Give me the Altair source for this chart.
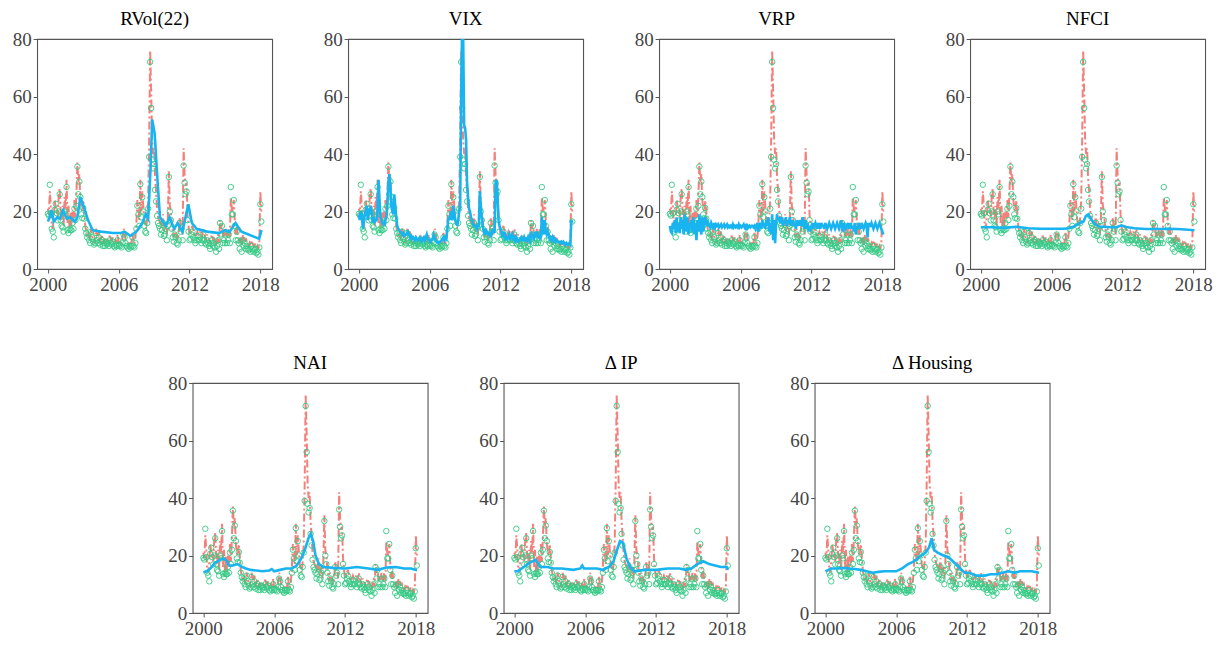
import altair as alt
import pandas as pd

# ---------------- data ----------------
# monthly observations, Jan 2000 .. Feb 2018 (green circles, same in every panel)
green_vals = [
    19.2, 18.6, 29.3, 19.4, 14.0, 13.0, 11.0, 20.6, 22.7, 19.4, 16.9, 20.0,
    26.0, 17.0, 15.0, 14.5, 13.0, 20.0, 19.0, 28.5, 13.5, 12.5, 14.0, 13.5,
    13.5, 16.0, 14.0, 21.0, 17.0, 22.0, 35.6, 26.0, 30.4, 25.0, 19.0, 17.7,
    21.2, 17.5, 14.0, 12.5, 11.0, 12.0, 10.0, 9.0, 13.0, 11.0, 9.5, 8.5,
    9.0, 12.5, 10.0, 9.0, 11.0, 8.5, 9.5, 10.0, 8.0, 9.0, 8.0, 9.5,
    8.5, 9.0, 8.0, 10.0, 9.0, 8.5, 9.5, 8.0, 7.5, 8.5, 8.0, 10.0,
    8.0, 8.5, 8.0, 7.5, 9.0, 12.0, 11.0, 9.0, 8.0, 7.5, 7.0, 8.0,
    7.5, 8.0, 11.0, 8.0, 7.5, 9.0, 14.0, 22.0, 19.0, 15.0, 29.5, 18.0,
    25.0, 20.0, 15.0, 13.0, 12.5, 16.0, 21.0, 39.0, 72.0, 56.0, 38.0, 35.0,
    36.5, 27.5, 23.5, 18.5, 16.0, 15.0, 14.0, 12.0, 13.5, 16.0, 11.5, 12.0,
    14.0, 10.0, 15.0, 32.0, 20.0, 17.0, 14.0, 11.0, 9.5, 12.0, 11.0, 9.0,
    8.5, 10.0, 16.0, 13.0, 14.0, 10.0, 36.0, 30.0, 26.0, 27.0, 17.0, 13.0,
    10.0, 10.5, 12.0, 13.0, 11.0, 10.0, 9.0, 10.0, 11.5, 10.0, 10.0, 11.0,
    9.0, 10.0, 12.0, 10.0, 9.0, 8.5, 10.0, 9.0, 8.0, 7.0, 9.0, 10.0,
    8.0, 9.0, 7.5, 6.0, 8.0, 10.0, 7.0, 16.0, 12.0, 15.0, 9.0, 10.0,
    9.0, 12.0, 9.0, 10.0, 12.0, 9.0, 28.5, 19.0, 19.0, 24.0, 15.0, 10.0,
    13.0, 10.0, 9.0, 7.0, 9.5, 6.0, 10.0, 8.0, 9.0, 7.0, 8.0, 7.0,
    6.5, 7.0, 6.0, 8.0, 7.0, 6.0, 6.5, 7.0, 5.5, 6.0, 5.0, 7.5,
    22.5, 16.5,
]

# red dash-dot series (monthly)
red_vals = [
    21, 19, 27, 22, 15, 14, 18, 24, 21, 20, 18, 25,
    28, 20, 17, 22, 15, 25, 21, 31, 16, 22, 14, 20,
    15, 20, 17, 24, 18, 26, 37, 30, 33, 24, 21, 20,
    24, 20, 15, 13, 12, 13, 11, 10, 14, 12, 10, 9,
    11, 14, 12, 10, 13, 9, 11, 12, 9, 10, 9, 11,
    10, 10, 9, 12, 10, 10, 11, 9, 9, 10, 9, 12,
    9, 10, 9, 9, 11, 14, 13, 10, 9, 9, 8, 9,
    9, 9, 13, 9, 9, 11, 16, 24, 21, 17, 31, 20,
    27, 22, 17, 15, 14, 18, 24, 45, 76, 62, 45, 40,
    42, 32, 27, 21, 18, 17, 16, 14, 16, 19, 13, 14,
    16, 12, 18, 34, 22, 20, 16, 13, 11, 14, 13, 11,
    10, 12, 18, 15, 16, 12, 42, 33, 29, 30, 19, 15,
    12, 12, 14, 15, 13, 12, 11, 12, 13, 12, 12, 13,
    11, 12, 14, 12, 11, 10, 12, 11, 10, 9, 11, 12,
    10, 11, 9, 8, 10, 12, 9, 17, 14, 16, 11, 12,
    11, 14, 11, 12, 14, 11, 25, 21, 20, 24, 17, 12,
    15, 12, 11, 9, 11, 8, 12, 10, 11, 9, 10, 9,
    8, 9, 8, 10, 9, 8, 8, 9, 7, 8, 7, 9,
    27, 20,
]

# blue series, monthly for VIX and VRP
blue_vix = [
    19, 17, 20, 19, 14, 16, 19, 20, 22, 17, 21, 19,
    22, 20, 16, 18, 16, 17, 17, 21, 31, 24, 18, 17,
    16, 16, 15, 17, 18, 22, 30, 33, 29, 22, 20, 19,
    26, 22, 18, 15, 14, 13.5, 13, 12.5, 12, 12.5, 11.5, 12,
    12, 12.5, 13, 12, 11, 11.5, 10.5, 11, 10.5, 10, 11, 10.5,
    10, 10.5, 11, 10, 9.5, 10.5, 11, 10, 11, 12, 10.5, 10,
    10, 9.5, 10, 10.5, 12, 11, 10, 9.5, 9.5, 9, 9.5, 9.5,
    10, 10.5, 11, 10, 11, 10.5, 14, 18, 17, 19, 20, 17,
    22, 20, 17, 16, 15, 17, 20, 22, 60, 85, 82, 50,
    49, 45, 30, 25, 21, 20, 18, 17, 16, 15, 15, 15,
    14, 15, 15, 27, 22, 18, 15, 13, 12, 14, 13, 12,
    12, 13, 11, 12, 14, 13, 13, 30, 31, 25, 17, 15,
    14, 13, 11, 12, 13, 10.5, 11, 10.5, 11, 12, 10.5, 11,
    12, 10.5, 11, 10, 11, 10, 9.5, 10, 10.5, 11, 10, 10,
    11, 10, 10.5, 10, 11, 10, 9.5, 13, 12, 11, 10.5, 12,
    13, 11, 12, 11, 10.5, 11, 18, 15, 12, 17, 13, 12,
    13, 12, 10.5, 11, 10, 11, 10, 10.5, 9.5, 10, 9.5, 9.5,
    9.5, 9, 9.5, 9, 9.5, 9, 8.5, 9, 8.5, 8.5, 9, 8.5,
    17, 16,
]

blue_vrp = [
    15, 13, 12.5, 16, 14, 17, 12.5, 18, 13, 16, 12.5, 18,
    14, 17, 12, 19, 15, 13, 18, 12, 16, 14, 17, 13,
    18, 12, 16, 10, 17, 13, 19, 14, 12, 18, 13, 15,
    18, 17, 15, 16, 15, 14.5, 16, 15, 14, 16, 14.5, 15.5,
    15, 15.5, 14.5, 15, 15.5, 14.5, 15, 15.5, 14.5, 15, 15.5, 14.5,
    15, 14.5, 15, 14.5, 15.5, 14.5, 15, 14.5, 15, 14.5, 15.5, 14.5,
    15, 14.5, 15, 15.5, 14.5, 15, 13.5, 15, 14.5, 15, 14.5, 15,
    15, 14.5, 15, 14, 15, 16, 13, 15, 16, 14, 17, 15,
    16, 14, 17, 15, 18, 13, 16, 12, 19, 10, 17, 9,
    16, 19, 17, 18, 16, 17, 18, 15, 17, 16, 18, 15,
    17, 16, 18, 15, 16, 17, 15, 16, 14, 17, 15, 16,
    17, 15, 16, 18, 15, 14, 17, 14, 16, 13, 15, 14,
    15, 16, 14, 15, 16, 15, 14, 16, 15, 14, 16, 15,
    15, 14, 16, 15, 14, 15, 16, 15, 14, 15, 16, 15,
    14, 15, 16, 15, 14, 15, 17, 15, 13, 16, 15, 14,
    15, 16, 14, 15, 16, 14, 15, 13, 16, 12, 15, 14,
    16, 15, 14, 16, 15, 14, 15, 16, 15, 11, 16, 15,
    15, 16, 15, 14, 15, 16, 15, 14, 15, 16, 15, 14,
    13, 12,
]

# smooth blue series as (year, value) pairs
blue_rvol = [
    (2000.0, 16.5), (2000.15, 18), (2000.3, 20.5), (2000.5, 16.5), (2000.8, 18),
    (2001.0, 17.5), (2001.3, 20.5), (2001.6, 17.5), (2001.9, 18), (2002.3, 16.5),
    (2002.5, 18), (2002.75, 25), (2003.1, 21), (2003.4, 17), (2003.8, 13.5),
    (2004.5, 13), (2005.5, 12.5), (2006.2, 12.5), (2006.5, 13), (2007.0, 11.5),
    (2007.5, 13), (2008.0, 16), (2008.3, 19), (2008.5, 17.5), (2008.7, 35),
    (2008.84, 52), (2009.05, 47), (2009.3, 30), (2009.5, 18), (2010.0, 15),
    (2010.3, 18), (2010.7, 14), (2011.0, 16), (2011.4, 13), (2011.9, 22.5),
    (2012.2, 16), (2012.6, 14), (2013.5, 13), (2014.5, 12.5), (2015.0, 13.5),
    (2015.4, 13), (2015.9, 16), (2016.4, 13), (2017.0, 12), (2017.6, 11),
    (2017.9, 10.5), (2018.1, 13.5),
]
blue_nfci = [
    (2000.0, 14.5), (2001.0, 14.5), (2002.0, 14.3), (2003.0, 14.7), (2004.0, 14.2),
    (2005.0, 14.0), (2006.0, 14.0), (2007.0, 14.0), (2007.5, 14.2), (2008.0, 15),
    (2008.4, 16), (2008.7, 16.5), (2008.9, 18.5), (2009.1, 19), (2009.3, 17.5),
    (2009.6, 16), (2010.0, 14.8), (2011.0, 14.5), (2011.5, 14.5), (2011.9, 15.2),
    (2012.3, 14.6), (2013.0, 14.2), (2014.0, 13.9), (2015.0, 13.9), (2016.0, 14),
    (2017.0, 13.8), (2018.1, 13.5),
]
blue_nai = [
    (2000.0, 14.2), (2000.3, 14.5), (2000.6, 15.5), (2001.0, 17.5), (2001.4, 18.5),
    (2001.75, 19.0), (2002.0, 18.0), (2002.2, 16.5), (2002.5, 16.5), (2002.9, 17.0),
    (2003.3, 16.0), (2003.6, 15.5), (2004.0, 15.0), (2005.0, 14.5), (2005.6, 14.8),
    (2005.8, 15.3), (2006.0, 14.5), (2006.5, 15.0), (2007.0, 15.5), (2007.5, 15.5),
    (2007.9, 16.5), (2008.3, 19.0), (2008.6, 22.0), (2008.9, 26.0), (2009.1, 27.5),
    (2009.3, 25.0), (2009.5, 20.0), (2009.8, 17.0), (2010.2, 16.0), (2011.0, 15.7),
    (2012.0, 15.5), (2013.0, 16.0), (2014.0, 15.5), (2014.8, 15.0), (2015.5, 15.8),
    (2016.3, 16.0), (2017.0, 15.5), (2017.6, 15.5), (2018.0, 15.0), (2018.1, 15.0),
]
blue_ip = [
    (2000.0, 14.5), (2000.3, 14.5), (2000.8, 16), (2001.3, 17.5), (2001.8, 18.5),
    (2002.2, 16), (2002.8, 16), (2003.3, 15.5), (2004.0, 15.5), (2005.0, 15),
    (2005.6, 15.5), (2005.75, 16.5), (2005.9, 15.5), (2006.5, 15.5), (2007.0, 15.5),
    (2007.5, 15), (2008.0, 16), (2008.4, 18), (2008.7, 22), (2008.95, 25),
    (2009.2, 24.5), (2009.5, 19), (2009.8, 16), (2010.2, 14.5), (2011.0, 15),
    (2012.0, 15), (2013.0, 15.5), (2014.0, 15.5), (2014.5, 15), (2015.0, 15.5),
    (2015.5, 17), (2016.0, 18), (2016.5, 17), (2017.0, 16.5), (2017.5, 16),
    (2018.0, 16), (2018.1, 15),
]
blue_housing = [
    (2000.0, 14.5), (2000.5, 15.5), (2001.0, 15.5), (2001.5, 15.7), (2002.0, 15.5),
    (2002.5, 15.3), (2003.0, 15), (2003.5, 14.5), (2004.0, 14), (2004.5, 14.3),
    (2005.0, 14.5), (2005.5, 14.5), (2006.0, 14.5), (2006.5, 15.5), (2007.0, 17),
    (2007.3, 17.5), (2007.7, 18.5), (2008.1, 20), (2008.5, 21), (2008.8, 23),
    (2009.0, 26), (2009.2, 22), (2009.5, 21), (2010.0, 20), (2010.4, 19.5),
    (2010.8, 18), (2011.3, 16), (2011.8, 14), (2012.2, 14), (2012.8, 13),
    (2013.5, 13), (2014.0, 13.5), (2014.5, 13.5), (2015.0, 14), (2015.5, 14.5),
    (2016.0, 14), (2016.5, 14.5), (2017.0, 14.5), (2017.5, 14.5), (2018.1, 14),
]

titles = ["RVol(22)", "VIX", "VRP", "NFCI", "NAI", "\u0394 IP", "\u0394 Housing"]
x_ticks = [2000, 2006, 2012, 2018]
y_ticks = [0, 20, 40, 60, 80]

GREEN = "#34c984"
RED = "#f3817b"
BLUE = "#18b4f0"
SERIF = "Liberation Serif"


def monthly(vals):
    return pd.DataFrame({"t": [2000 + i / 12 for i in range(len(vals))], "v": vals})


def pairs(p):
    return pd.DataFrame(p, columns=["t", "v"])


green_df = monthly(green_vals)
red_df = monthly(red_vals)
blues = [pairs(blue_rvol), monthly(blue_vix), monthly(blue_vrp), pairs(blue_nfci),
         pairs(blue_nai), pairs(blue_ip), pairs(blue_housing)]

x_enc = alt.X("t:Q", scale=alt.Scale(domain=[1999.09, 2019.0], nice=False, zero=False),
              axis=alt.Axis(values=x_ticks, format="d", title=None))
y_enc = alt.Y("v:Q", scale=alt.Scale(domain=[0, 80], nice=False),
              axis=alt.Axis(values=y_ticks, title=None))


def panel(title, blue_df):
    red = alt.Chart(red_df).mark_line(color=RED, strokeWidth=2, strokeDash=[8, 3, 2, 3],
                                      clip=True).encode(x=x_enc, y=y_enc)
    green = alt.Chart(green_df).mark_point(shape="circle", filled=False, color=GREEN, size=30,
                                           strokeWidth=0.9, opacity=1, clip=True).encode(x=x_enc, y=y_enc)
    blue = alt.Chart(blue_df).mark_line(color=BLUE, strokeWidth=2.6, clip=True).encode(x=x_enc, y=y_enc)
    return alt.layer(red, green, blue).properties(
        width=235, height=230,
        title=alt.TitleParams(title, font=SERIF, fontSize=19, fontWeight="normal",
                              color="black", offset=1, anchor="middle"))


panels = [panel(t, b) for t, b in zip(titles, blues)]
top = alt.hconcat(*panels[:4], spacing=76, bounds="flush")
bottom = alt.hconcat(*panels[4:], spacing=76, bounds="flush")

chart = alt.vconcat(top, bottom, spacing=58, center=True).properties(
    padding={"left": 11, "top": 9, "right": 5, "bottom": 5},
    background="white",
).configure_view(stroke="#555555", strokeWidth=1.1).configure_axis(
    grid=False, domain=False, labelFont=SERIF, labelFontSize=19, labelColor="#444444",
    tickColor="#555555", tickSize=4, tickWidth=1, labelPadding=2,
)

chart.save("out.html", embed_options={"renderer": "svg", "actions": False})
